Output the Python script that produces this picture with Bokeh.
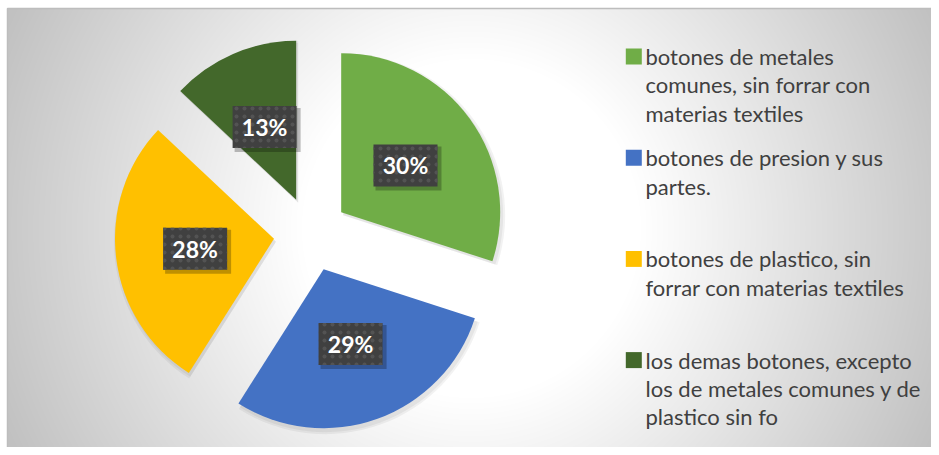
import numpy as np
from bokeh.plotting import figure
from bokeh.models import ColumnDataSource
from bokeh.embed import file_html
from bokeh.resources import INLINE
from bokeh.core.properties import value

# ---------------- data ----------------
categories = [
    "botones de metales comunes, sin forrar con materias textiles",
    "botones de presion y sus partes.",
    "botones de plastico, sin forrar con materias textiles",
    "los demas botones, excepto los de metales comunes y de plastico sin fo",
]
legend_lines = [
    ["botones de metales", "comunes, sin forrar con", "materias textiles"],
    ["botones de presion y sus", "partes."],
    ["botones de plastico, sin", "forrar con materias textiles"],
    ["los demas botones, excepto", "los de metales comunes y de", "plastico sin fo"],
]
values = [30, 29, 28, 13]
colors = ["#70AD47", "#4472C4", "#FFC000", "#43682B"]

# ---------------- layout (pixels) ----------------
W, H = 931, 447
CX, CY = 310.5, H - 233.6
R = 159
EXPLODE = 37.3
LEFT_PAD, TOP_PAD = 7, 8

p = figure(width=W, height=H, x_range=(0, W), y_range=(0, H),
           output_backend="svg", toolbar_location=None, min_border=0)
p.axis.visible = False
p.grid.visible = False
p.outline_line_color = None
p.background_fill_color = "#ffffff"
p.border_fill_color = "#ffffff"

# radial gradient background (chart area)
yy, xx = np.mgrid[0:H, 0:W]
img_x = xx + 0.5
img_y = H - (yy + 0.5)
r = np.sqrt((img_x - 471) ** 2 + (img_y - 228) ** 2)
t = np.clip((r - 170) / 340.0, 0, 1)
g = (255 - 62 * t).astype(np.uint32)
g[(img_x < LEFT_PAD) | (img_y < TOP_PAD)] = 255
rgba = (np.uint32(255) << 24) | (g << 16) | (g << 8) | g
p.image_rgba(image=[rgba.astype(np.uint32)], x=0, y=0, dw=W, dh=H)
# chart border (top / left)
p.line(x=[LEFT_PAD, LEFT_PAD, W], y=[0, H - TOP_PAD, H - TOP_PAD],
       line_color="#bdbdbd", line_width=1.5)

# ---------------- pie ----------------
vals = np.array(values, dtype=float)
frac = vals / vals.sum()
cum = np.concatenate([[0], np.cumsum(frac)])
start = np.pi / 2 - cum[:-1] * 2 * np.pi
end = np.pi / 2 - cum[1:] * 2 * np.pi
mid = (cum[:-1] + cum[1:]) / 2 * 2 * np.pi  # clockwise from top
xs = CX + EXPLODE * np.sin(mid)
ys = CY + EXPLODE * np.cos(mid)
lx = xs + 0.5 * R * np.sin(mid)
ly = ys + 0.5 * R * np.cos(mid)
labels = [f"{v:.0f}%" for v in frac * 100]

src = ColumnDataSource(dict(x=xs, y=ys, start=start, end=end, color=colors,
                            sx=xs + 2, sy=ys - 3, lx=lx, ly=ly, label=labels,
                            lsx=lx + 3, lsy=ly - 3))

# soft shadow
p.wedge(x="sx", y="sy", radius=R + 3, start_angle="start", end_angle="end",
        direction="clock", fill_color="#000000", fill_alpha=0.05, line_color=None, source=src)
p.wedge(x="sx", y="sy", radius=R + 1, start_angle="start", end_angle="end",
        direction="clock", fill_color="#000000", fill_alpha=0.05, line_color=None, source=src)
p.wedge(x="x", y="y", radius=R, start_angle="start", end_angle="end",
        direction="clock", fill_color="color", line_color=None, source=src)

# data labels
p.rect(x="lsx", y="lsy", width=66, height=44, fill_color="#000000", fill_alpha=0.25,
       line_color=None, source=src)
p.rect(x="lx", y="ly", width=64, height=42, fill_color="#404040", line_color=None,
       hatch_pattern="dot", hatch_color="#535353", hatch_scale=8, hatch_weight=1.2,
       source=src)
p.text(x="lx", y="ly", text="label", text_color="white", text_font=value("Lato"),
       text_font_style="bold", text_font_size="23px", text_align="center",
       text_baseline="middle", source=src)

# ---------------- legend ----------------
LEG_TOP = H - 56.0
LEG_STEP = 101.2
LINE_H = 28.4
MX = 633.3
TX = 645.0
mk_y = [LEG_TOP - i * LEG_STEP for i in range(len(categories))]
p.rect(x=[MX] * len(categories), y=mk_y, width=16, height=16, fill_color=colors,
       line_color=None)
tx, ty, tt = [], [], []
for i, lines in enumerate(legend_lines):
    for j, ln in enumerate(lines):
        tx.append(TX)
        ty.append(mk_y[i] - j * LINE_H)
        tt.append(ln)
p.text(x=tx, y=ty, text=tt, text_color="#404040", text_font=value("Lato"),
       text_font_size="22px", text_align="left", text_baseline="middle")

open("out.html", "w").write(file_html(p, INLINE))
